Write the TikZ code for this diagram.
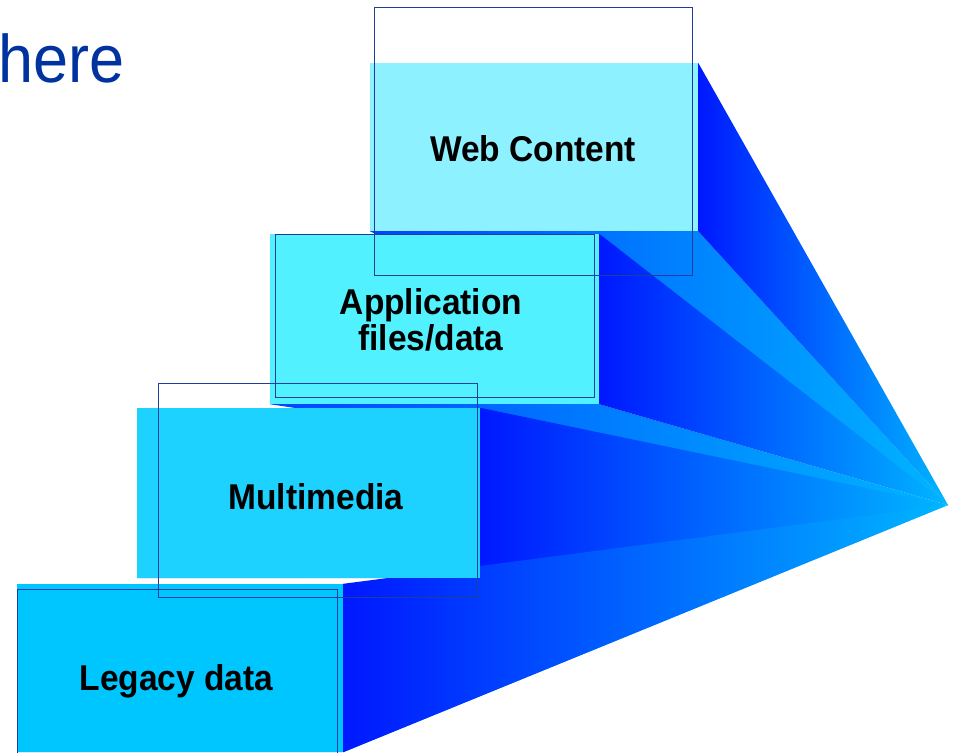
\documentclass[tikz,border=0pt]{standalone}
\usepackage{fontspec}
\setmainfont{Liberation Sans}
\usetikzlibrary{backgrounds}
\definecolor{webfill}{HTML}{8EF1FF}
\definecolor{appfill}{HTML}{52F1FF}
\definecolor{mediafill}{HTML}{1ED2FF}
\definecolor{legacyfill}{HTML}{00C6FF}
\definecolor{framecol}{HTML}{1F3C9E}
\definecolor{facedark}{HTML}{0018FF}
\definecolor{facelight}{HTML}{00B6FF}
\definecolor{underdark}{HTML}{0044FF}
\definecolor{titlecol}{HTML}{0033A0}
\tikzset{
	% front of a block
	block/.style={
		rectangle,
		inner sep=0pt,
		draw=none
	},
	% thin text frame
	frame/.style={
		rectangle,
		draw=framecol, line width=1pt,
		inner sep=0pt
	},
	% block caption
	caption/.style={
		font=\bfseries\fontsize{33.5}{33}\selectfont,
		align=center,
		anchor=base,
		inner sep=0pt,
		yscale=1.07
	},
	% side face towards the vanishing point
	side/.style={
		left color=facedark,
		right color=facelight
	},
	% lower face towards the vanishing point
	under/.style={
		left color=underdark,
		right color=facelight
	}
}
\begin{document}
\begin{tikzpicture}[x=1pt, y=-1pt]
	\useasboundingbox (0,0) rectangle (957,752);
	\clip (0,0) rectangle (957,752);

	\node[anchor=base west, inner sep=0pt, text=titlecol, yscale=1.07,
		font=\fontsize{63}{70}\selectfont] (title) at (-2,82) {here};

	\coordinate (vp) at (948,505);

	\node[block, fill=webfill, minimum width=328pt, minimum height=168pt] (web)
		at (534,147) {};
	\node[block, fill=appfill, minimum width=329pt, minimum height=170pt] (app)
		at (434.5,319) {};
	\node[block, fill=mediafill, minimum width=343pt, minimum height=170pt] (media)
		at (308.5,493) {};
	\node[block, fill=legacyfill, minimum width=326pt, minimum height=168pt] (legacy)
		at (180,668) {};

	\begin{pgfonlayer}{background}
		\shade[under] (web.south west) -- (web.south east) -- (vp) -- cycle;
		\shade[side] (web.north east) -- (web.south east) -- (vp) -- cycle;
		\shade[under] (app.south west) -- (app.south east) -- (vp) -- cycle;
		\shade[side] (app.north east) -- (app.south east) -- (vp) -- cycle;
		\shade[under] (media.south west) -- (media.south east) -- (vp) -- cycle;
		\shade[side] (media.north east) -- (media.south east) -- (vp) -- cycle;
		\shade[under] (legacy.south west) -- (legacy.south east) -- (vp) -- cycle;
		\shade[side] (legacy.north east) -- (legacy.south east) -- (vp) -- cycle;
	\end{pgfonlayer}

	\node[frame, minimum width=318pt, minimum height=267pt] (webframe)
		at (533,141.5) {};
	\node[frame, minimum width=319pt, minimum height=163pt] (appframe)
		at (434.5,315.5) {};
	\node[frame, minimum width=319pt, minimum height=214pt] (mediaframe)
		at (317.5,490) {};
	\node[frame, minimum width=319.5pt, minimum height=220pt] (legacyframe)
		at (177.25,699) {};

	\node[caption] (webtext) at (533,161) {Web Content};
	\node[caption] (apptext) at (431,350) {Application\\files/data};
	\node[caption] (mediatext) at (316,509) {Multimedia};
	\node[caption] (legacytext) at (176.5,690) {Legacy data};
\end{tikzpicture}
\end{document}
